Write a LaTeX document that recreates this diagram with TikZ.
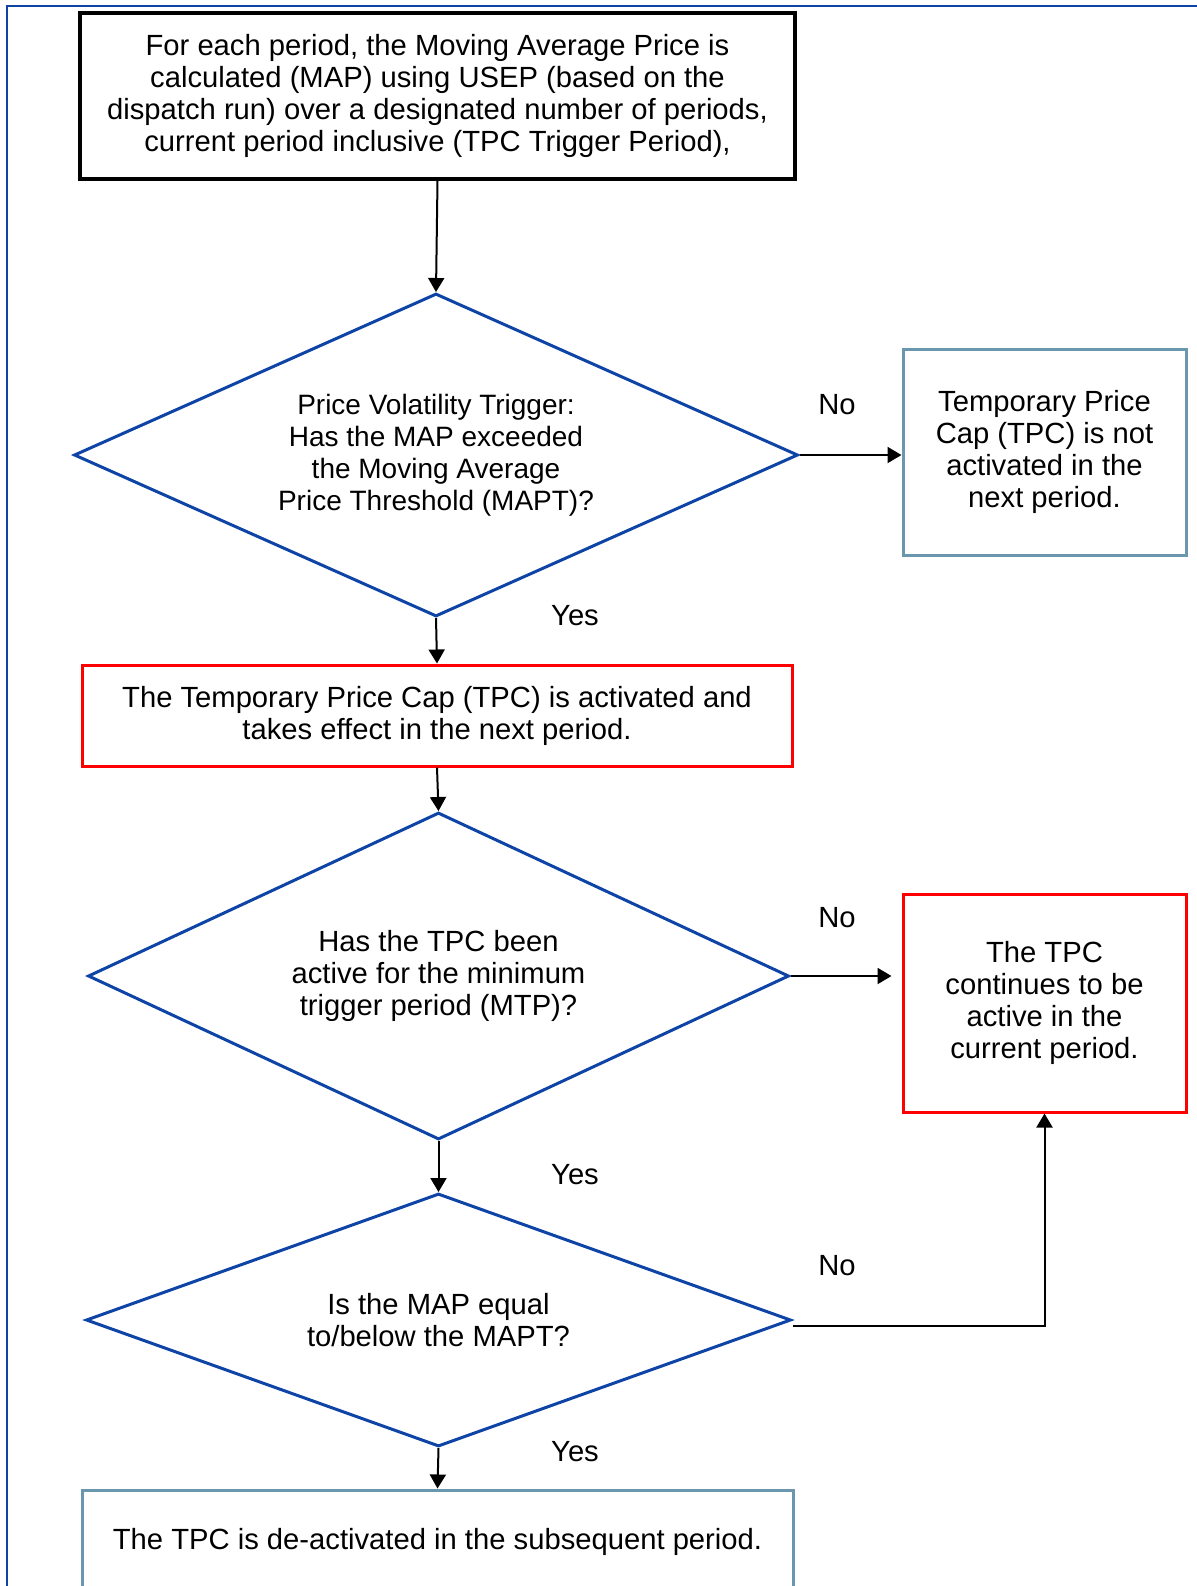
\documentclass[tikz,border=0pt]{standalone}
\usepackage{fontspec}
\setmainfont{Liberation Sans}
\usetikzlibrary{shapes.geometric,arrows.meta}
\definecolor{dblue}{RGB}{13,68,166}
\definecolor{sblue}{RGB}{106,150,174}
\definecolor{cred}{RGB}{255,0,0}
\tikzset{
    txt/.style={font=\fontsize{14.6}{16}\selectfont,align=center,inner sep=0pt},
    startbox/.style={txt,draw=black,line width=1.75pt,minimum width=357.5pt,minimum height=83pt},
    decision/.style={txt,diamond,draw=dblue,line width=1.5pt},
    offbox/.style={txt,draw=sblue,line width=1.5pt},
    onbox/.style={txt,draw=cred,line width=1.5pt},
    flow/.style={draw=black,line width=1pt,-{Triangle[length=7pt,width=8pt]}},
  }

\begin{document}
\begin{tikzpicture}[x=0.5pt,y=-0.5pt]
				  \useasboundingbox (0,0) rectangle (1197,1586);
				  \clip (0,0) rectangle (1197,1586);
				  %FRAME
				  \draw[dblue,line width=1pt] (7,1650) -- (7,6) -- (1250,6);
				  %START
				  \node[startbox] (map) at (437.5,96) {For each period, the Moving Average Price is\\calculated (MAP) using USEP (based on the\\dispatch run) over a designated number of periods,\\current period inclusive (TPC Trigger Period),};
				  %DECISIONS
				  \node[decision,font=\fontsize{14}{16}\selectfont,minimum width=362pt,minimum height=161.5pt,aspect=2.24] (trig) at (436,455) {Price Volatility Trigger:\\Has the MAP exceeded\\the Moving Average\\Price Threshold (MAPT)?};
				  \node[decision,minimum width=350.5pt,minimum height=163.5pt,aspect=2.14] (mtp) at (438.5,976) {Has the TPC been\\active for the minimum\\trigger period (MTP)?};
				  \node[decision,minimum width=352.5pt,minimum height=126.5pt,aspect=2.79] (below) at (438.5,1320) {Is the MAP equal\\to/below the MAPT?};
				  %BOXES
				  \node[offbox,minimum width=141.5pt,minimum height=103pt] (notact) at (1044.5,452) {Temporary Price\\Cap (TPC) is not\\activated in the\\next period.};
				  \node[onbox,minimum width=355pt,minimum height=50.5pt] (act) at (437,715.5) {The Temporary Price Cap (TPC) is activated and\\takes effect in the next period.};
				  \node[onbox,minimum width=141.5pt,minimum height=109pt] (cont) at (1044.5,1003) {The TPC\\continues to be\\active in the\\current period.};
				  \node[offbox,minimum width=355.5pt,minimum height=52pt] (deact) at (437.5,1542) {The TPC is de-activated in the subsequent period.};
				  %LABELS
				  \node[txt] (no1) at (837,405) {No};
				  \node[txt] (no2) at (837,918) {No};
				  \node[txt] (no3) at (837,1266) {No};
				  \node[txt] (yes1) at (575,616) {Yes};
				  \node[txt] (yes2) at (575,1175) {Yes};
				  \node[txt] (yes3) at (575,1452) {Yes};
				  %ARROWS
				  \draw[flow] (map.south) -- (trig.north);
				  \draw[flow] (trig.south) -- (act.north);
				  \draw[flow] (trig.east) -- (trig.east -| notact.west);
				  \draw[flow] (act.south) -- (mtp.north);
				  \draw[flow] (mtp.east) -- ([xshift=-5pt]mtp.east -| cont.west);
				  \draw[flow] (mtp.south) -- (below.north);
				  \draw[flow] ([yshift=-3pt]below.east) -| (cont.south);
				  \draw[flow] (below.south) -- (deact.north);
\end{tikzpicture}
\end{document}
